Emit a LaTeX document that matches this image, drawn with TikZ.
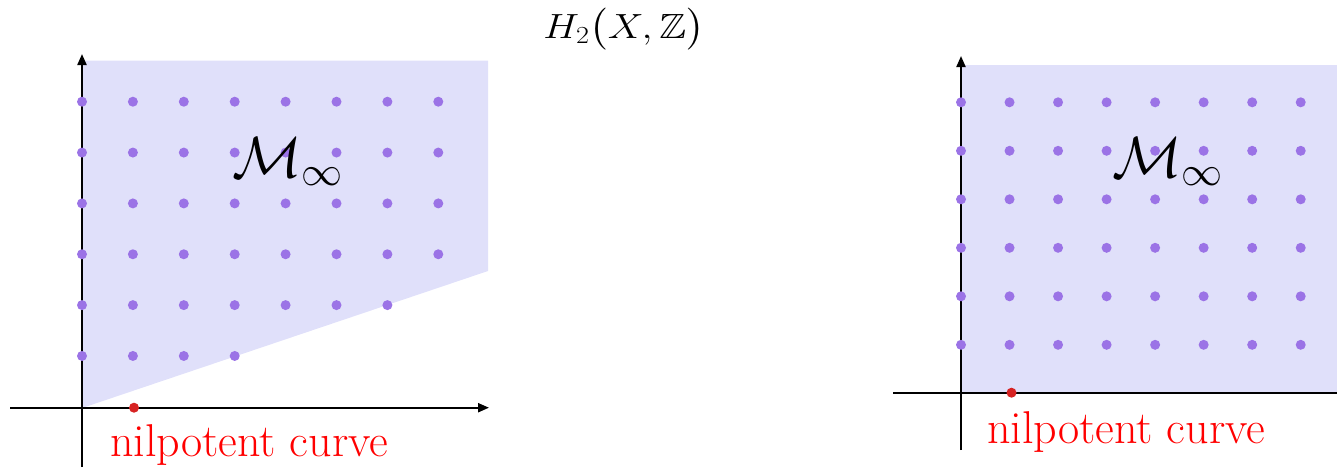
\RequirePackage{fix-cm}
\documentclass[tikz,border=0pt]{standalone}
\usepackage{amsmath,amssymb}
\usepackage{graphicx}
\usetikzlibrary{arrows.meta}
\DeclareMathSizes{58}{58}{41}{29}
\definecolor{shadefill}{RGB}{224,224,250}
\definecolor{dotc}{RGB}{155,115,230}
\definecolor{nilred}{RGB}{215,35,35}
\begin{document}
\begin{tikzpicture}[x=1pt,y=-1pt,
  axisline/.style={line width=2.1pt,black},
  axisarrow/.style={axisline,-{Triangle[length=11pt,width=9pt]}},
  latticedot/.style={circle,fill=dotc,inner sep=0pt,minimum size=10pt},
  nildot/.style={circle,fill=nilred,inner sep=0pt,minimum size=10pt},
  txt/.style={inner sep=0pt,anchor=base west},
  niltext/.style={txt,text=red,font=\fontsize{46}{55}\selectfont},
  mtext/.style={txt,font=\fontsize{58}{70}\selectfont}]
\useasboundingbox (0,0) rectangle (1337,467);

% ---------- title ----------
\node[inner sep=0pt,anchor=base,font=\fontsize{35}{42}\selectfont] (title) at (624,38)
  {\scalebox{1.15}[1]{$H_2\bigl(X,\mathbb{Z}\bigr)$}};

% ---------- left panel ----------
\fill[shadefill] (83,407.7) -- (83,60.7) -- (488,60.7) -- (488,271) -- cycle;
\coordinate (LyB) at (82,467);
\coordinate (LyT) at (82,54);
\coordinate (LxL) at (10,407.7);
\coordinate (LxR) at (489,407.7);
\draw[axisarrow] (LyB) -- (LyT);
\draw[axisarrow] (LxL) -- (LxR);
\foreach \j/\n in {1/8,2/8,3/8,4/8,5/7,6/4}{
  \foreach \i in {1,...,\n}{
    \node[latticedot] (L-\i-\j) at ({82+(\i-1)*50.9},{101.7+(\j-1)*50.85}) {};
  }
}
\node[nildot] (Lnil) at (134,407.7) {};
\node[mtext] (LM) at (232,177) {$\mathcal{M}_\infty$};
\node[niltext] (Ltext) at (110,456.5) {nilpotent curve};

% ---------- right panel ----------
\fill[shadefill] (962,65) rectangle (1337,392.7);
\coordinate (RyB) at (961,450);
\coordinate (RyT) at (961,56);
\coordinate (RxL) at (893,392.7);
\coordinate (RxR) at (1340,392.7);
\draw[axisarrow] (RyB) -- (RyT);
\draw[axisline] (RxL) -- (RxR);
\foreach \j in {1,...,6}{
  \foreach \i in {1,...,8}{
    \node[latticedot] (R-\i-\j) at ({961+(\i-1)*48.53},{102.3+(\j-1)*48.5}) {};
  }
}
\node[nildot] (Rnil) at (1011.5,392.7) {};
\node[mtext] (RM) at (1112,177) {$\mathcal{M}_\infty$};
\node[niltext] (Rtext) at (987,443) {nilpotent curve};
\end{tikzpicture}
\end{document}
